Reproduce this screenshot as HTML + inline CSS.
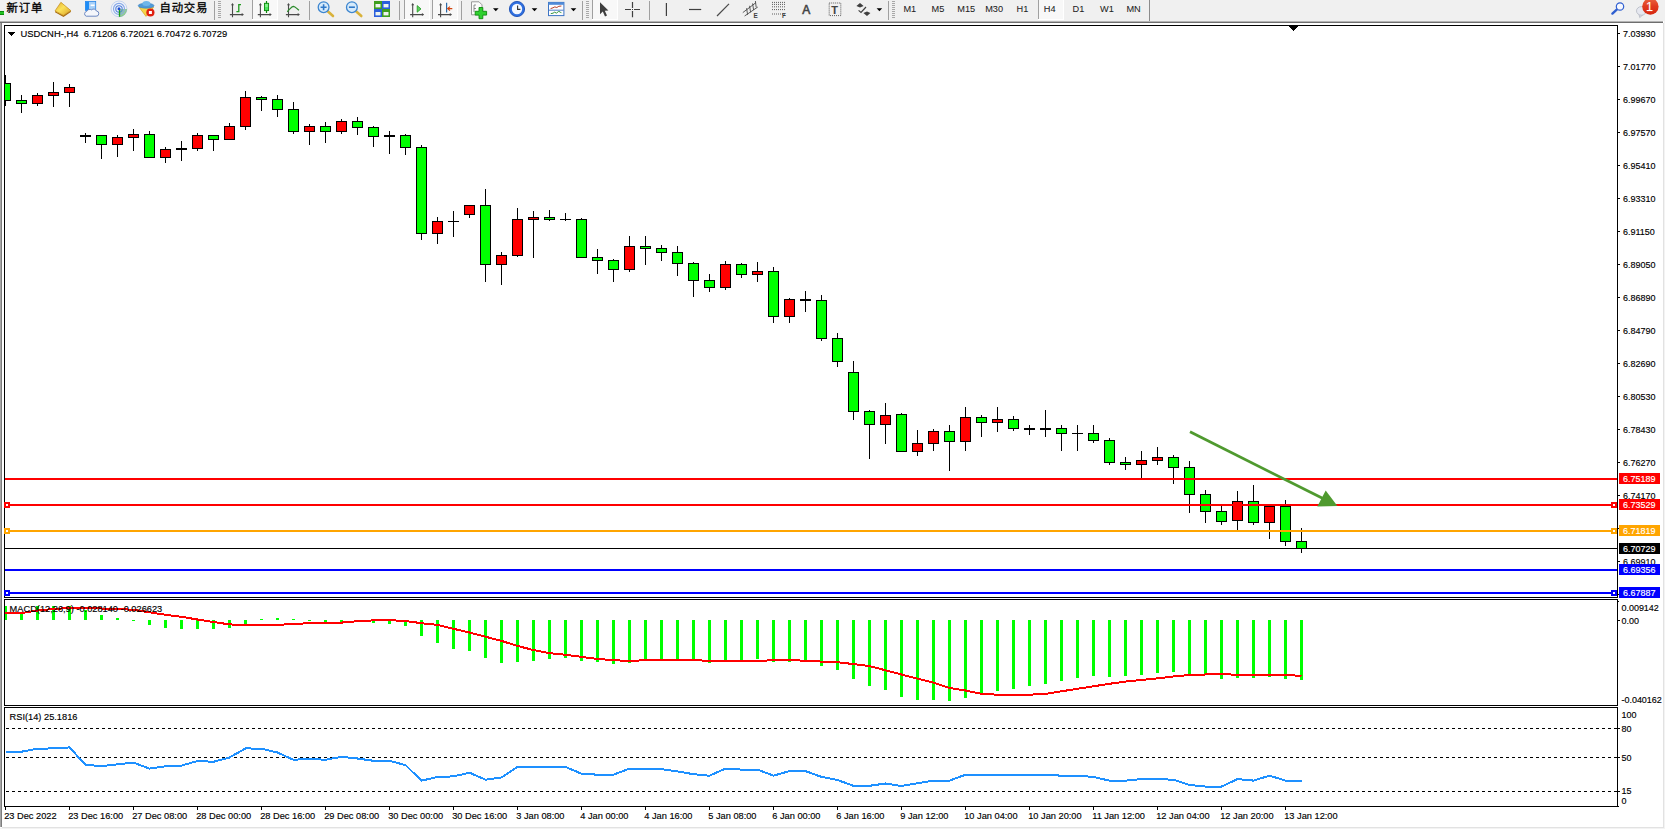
<!DOCTYPE html>
<html lang="zh"><head><meta charset="utf-8"><title>USDCNH-,H4</title>
<style>html,body{margin:0;padding:0;background:#fff;overflow:hidden}svg{display:block}text{font-family:"Liberation Sans", "Noto Sans CJK SC", sans-serif;font-size:9.8px;fill:#000;stroke:#000;stroke-width:0.15px}.cr{shape-rendering:crispEdges}.w{fill:#fff;stroke:#fff}.tb{fill:#222;stroke:#222;stroke-width:0.05px;font-size:9.2px}.cj{font-size:11.4px;letter-spacing:0.75px;fill:#000;stroke-width:0.3px}</style></head><body>
<svg width="1665" height="829" viewBox="0 0 1665 829">
<rect width="1665" height="829" fill="#fff"/>
<g class="cr">
<rect x="0" y="0" width="1665" height="21" fill="#f0f0f0"/>
<rect x="1664" y="21" width="1" height="808" fill="#f3f3f3"/>
<rect x="0" y="828" width="1665" height="1" fill="#f3f3f3"/>
<rect x="0" y="21" width="1663" height="1" fill="#b4b4b4"/>
<rect x="0" y="22" width="1663" height="1" fill="#6e6e6e"/>
<rect x="0" y="23" width="1" height="804" fill="#a6a6a6"/>
<rect x="1" y="23" width="1" height="804" fill="#7e7e7e"/>
<rect x="1663" y="23" width="1" height="805" fill="#e2e2e2"/>
<rect x="2" y="827" width="1662" height="1" fill="#e2e2e2"/>
</g>
<g id="toolbar">
<rect class="cr" x="0" y="11" width="4" height="4" fill="#22c322"/><rect class="cr" x="0" y="11" width="4" height="1" fill="#0d8a0d"/><rect class="cr" x="0" y="14" width="4" height="1" fill="#0d8a0d"/>
<text class="cj" x="6.6" y="12.3">新订单</text>
<defs><linearGradient id="gold" x1="0" y1="0" x2="1" y2="1"><stop offset="0" stop-color="#e2a92a"/><stop offset="0.45" stop-color="#fbe25a"/><stop offset="1" stop-color="#d9a024"/></linearGradient></defs>
<path d="M55 10.900L63.400 15.300L70.800 10.600L70.800 12L63.500 16.900L55 12.300Z" fill="#a86c12"/>
<path d="M60.900 2.300L70.800 10.600L63.400 15.400L55 10.900Z" fill="url(#gold)" stroke="#c08a1c" stroke-width="0.700"/>
<rect x="85.400" y="1.500" width="10.300" height="8.800" fill="#a6d0f8" stroke="#2a86e8" stroke-width="0.800"/><rect x="85.400" y="1.500" width="3.600" height="8.800" fill="#1e8cf5"/><rect x="90.600" y="4.500" width="4" height="1.600" fill="#fff"/>
<path d="M86.200 16.200h9.800a2.600 2.600 0 0 0 0.400-5.200a2.900 2.900 0 0 0-4.800-1.100a3.300 3.300 0 0 0-4.900 1.500a2.500 2.500 0 0 0-0.500 4.800z" fill="#f4f6fb" stroke="#5f7dbb" stroke-width="0.900"/>
<circle cx="119" cy="8.900" r="7.900" fill="#eef2f9" stroke="#c3d3ee" stroke-width="1"/>
<path d="M119 9L119 17A8 8 0 0 0 127 9Z" fill="#3aa83a" opacity="0.5"/>
<circle cx="119" cy="8.900" r="5.500" fill="none" stroke="#86a8e6" stroke-width="1.100"/>
<circle cx="119" cy="8.900" r="3.200" fill="none" stroke="#5583dd" stroke-width="1.100"/>
<path d="M119.500 9.500V16.700" stroke="#18a018" stroke-width="1.300"/>
<circle cx="119" cy="8.800" r="1.500" fill="#2050d0"/>
<path d="M139.200 7.300L153.600 7.300L146 16.400Z" fill="#f6d548" stroke="#d2a422" stroke-width="0.700"/>
<ellipse cx="146.100" cy="5.700" rx="7.900" ry="2.500" fill="#4f9ad8" stroke="#3a7fc0" stroke-width="0.600"/><ellipse cx="146.400" cy="3.400" rx="4" ry="2.500" fill="#6fb6ea"/>
<circle cx="150.400" cy="12.500" r="4.100" fill="#e02010"/><rect x="148.900" y="11" width="3" height="3" fill="#fff"/>
<text class="cj" x="159.500" y="12.300">自动交易</text>
<rect class="cr" x="214" y="1" width="1" height="19" fill="#a0a0a0"/>
<path class="cr" d="M218 1.5 h3 M218 3.5 h3 M218 5.5 h3 M218 7.5 h3 M218 9.5 h3 M218 11.5 h3 M218 13.5 h3 M218 15.5 h3 M218 17.5 h3" stroke="#a8a8a8" stroke-width="1" fill="none"/>
<path d="M232.5 17.2V4 M229.9 14.6H243.1" stroke="#4a4a4a" stroke-width="1.1" fill="none"/>
<path d="M232.5 3l1.500 2.200h-3z M243.9 14.600l-2.200 1.500v-3z" fill="#4a4a4a"/>
<path d="M241 4.6h-2.2v7h-2.4" stroke="#1f9a1f" stroke-width="1.3" fill="none"/>
<rect class="cr" x="253" y="0" width="24" height="19" fill="#f8f8f8"/>
<rect class="cr" x="252" y="0" width="1" height="19" fill="#a0a0a0"/>
<rect class="cr" x="277" y="0" width="1" height="20" fill="#fff"/>
<rect class="cr" x="252" y="19" width="25" height="1" fill="#fff"/>
<path d="M260.4 17.2V4 M257.8 14.6H271" stroke="#4a4a4a" stroke-width="1.1" fill="none"/>
<path d="M260.4 3l1.500 2.200h-3z M271.8 14.600l-2.200 1.500v-3z" fill="#4a4a4a"/>
<path d="M266.5 1v12" stroke="#0d8a0d" stroke-width="1.2"/><rect x="264.500" y="3.300" width="4.100" height="7.300" fill="#4be45f" stroke="#0d8a0d" stroke-width="0.900"/><rect x="265.200" y="4" width="2.700" height="3" fill="#86f28f"/>
<path d="M288.5 17.2V4 M285.9 14.6H299.1" stroke="#4a4a4a" stroke-width="1.1" fill="none"/>
<path d="M288.5 3l1.500 2.200h-3z M299.9 14.600l-2.200 1.500v-3z" fill="#4a4a4a"/>
<path d="M287.3 11.8C290 9 291.6 6.2 293.5 6.3C295.5 6.6 296.8 8.8 299 10.2" stroke="#2a8a2a" stroke-width="1.2" fill="none"/>
<rect class="cr" x="309" y="1" width="1" height="19" fill="#a0a0a0"/>
<path d="M328 11.6L333 16" stroke="#d9b23a" stroke-width="2.6" stroke-linecap="round"/>
<circle cx="323.6" cy="7.2" r="5.4" fill="#d6eafa" stroke="#3d86d0" stroke-width="1.3"/>
<path d="M320.6 7.2h6 M323.6 4.2v6" stroke="#2f78c8" stroke-width="1.6" fill="none"/>
<path d="M356.3 11.6L361.3 16" stroke="#d9b23a" stroke-width="2.6" stroke-linecap="round"/>
<circle cx="351.9" cy="7.2" r="5.4" fill="#d6eafa" stroke="#3d86d0" stroke-width="1.3"/>
<path d="M348.9 7.2h6" stroke="#2f78c8" stroke-width="1.6" fill="none"/>
<rect x="374" y="1" width="8" height="8" fill="#3f9e1f"/>
<rect x="375.5" y="4" width="5" height="3.4" fill="#eef4ee"/>
<rect x="382" y="1" width="8" height="8" fill="#2b5fdc"/>
<rect x="383.5" y="4" width="5" height="3.4" fill="#eef4ee"/>
<rect x="374" y="9" width="8" height="8" fill="#2b5fdc"/>
<rect x="375.5" y="12" width="5" height="3.4" fill="#eef4ee"/>
<rect x="382" y="9" width="8" height="8" fill="#3f9e1f"/>
<rect x="383.5" y="12" width="5" height="3.4" fill="#eef4ee"/>
<rect class="cr" x="399" y="1" width="1" height="19" fill="#a0a0a0"/>
<rect class="cr" x="405" y="0" width="24" height="19" fill="#f8f8f8"/>
<rect class="cr" x="404" y="0" width="1" height="19" fill="#a0a0a0"/>
<rect class="cr" x="429" y="0" width="1" height="20" fill="#fff"/>
<rect class="cr" x="404" y="19" width="25" height="1" fill="#fff"/>
<path d="M412.7 17.2V4 M410.1 14.6H423.3" stroke="#4a4a4a" stroke-width="1.1" fill="none"/>
<path d="M412.7 3l1.500 2.200h-3z M424.1 14.600l-2.200 1.500v-3z" fill="#4a4a4a"/>
<path d="M417.2 5.6V12.2L421 8.9Z" fill="#5fd25f" stroke="#1f9a1f" stroke-width="0.8"/>
<rect class="cr" x="433" y="0" width="24" height="19" fill="#f8f8f8"/>
<rect class="cr" x="432" y="0" width="1" height="19" fill="#a0a0a0"/>
<rect class="cr" x="457" y="0" width="1" height="20" fill="#fff"/>
<rect class="cr" x="432" y="19" width="25" height="1" fill="#fff"/>
<path d="M440.6 17.2V4 M438 14.6H451.2" stroke="#4a4a4a" stroke-width="1.1" fill="none"/>
<path d="M440.6 3l1.500 2.200h-3z M452 14.600l-2.200 1.500v-3z" fill="#4a4a4a"/>
<path d="M446.6 2.8V12.6" stroke="#2b6aa8" stroke-width="1.2"/><path d="M452.3 8.6H448 M450 6.6L447.6 8.6L450 10.6" stroke="#d2440f" stroke-width="1.1" fill="none"/>
<rect class="cr" x="461" y="1" width="1" height="19" fill="#a0a0a0"/>
<path d="M471.5 1.8h7.5l3 3v10h-10.5z" fill="#fbfbfb" stroke="#8e8e8e" stroke-width="0.9"/><path d="M474 5v7 M474 5h2 M474 8.5h2" stroke="#777" stroke-width="0.8" fill="none"/>
<path d="M479 7.5h3.8v3.8h3.8v3.8h-3.8v3.6h-3.8v-3.6h-3.8v-3.8h3.800z" fill="#2fd02f" stroke="#0d8a0d" stroke-width="0.9"/>
<path d="M493 8.2h5.6l-2.8 3z" fill="#000"/>
<circle cx="517" cy="9" r="7.6" fill="#2f6fe0" stroke="#1c4fb4" stroke-width="0.9"/><circle cx="517" cy="9" r="5.2" fill="#f4f8ff"/>
<path d="M517.6 5.4V9.4H520.4" stroke="#333" stroke-width="1.1" fill="none"/>
<path d="M531.7 8.2h5.6l-2.8 3z" fill="#000"/>
<rect x="548.5" y="2.4" width="15.4" height="13.2" fill="#fdfdff" stroke="#3c74c4" stroke-width="1"/><rect x="548.5" y="2.4" width="15.4" height="2.4" fill="#4f8ad8"/><path d="M549 10.2h14.6" stroke="#3c74c4" stroke-width="0.9"/>
<path d="M550.6 8.6l2.4-0.8l1.8-0.9l2 0.6l2-1.2l2.6-0.3" stroke="#b02a10" stroke-width="0.9" fill="none"/><path d="M550.8 13.6l2.2-0.4l1.6-1l1.8 0.9l2.2-1.6l1.6 0.4l1.2 1.2" stroke="#1f8a2a" stroke-width="0.9" fill="none"/>
<path d="M570.7 8.2h5.6l-2.8 3z" fill="#000"/>
<rect class="cr" x="582" y="1" width="1" height="19" fill="#a0a0a0"/>
<path class="cr" d="M586 1.5 h3 M586 3.5 h3 M586 5.5 h3 M586 7.5 h3 M586 9.5 h3 M586 11.5 h3 M586 13.5 h3 M586 15.5 h3 M586 17.5 h3" stroke="#a8a8a8" stroke-width="1" fill="none"/>
<rect class="cr" x="593" y="0" width="24" height="19" fill="#f8f8f8"/>
<rect class="cr" x="592" y="0" width="1" height="19" fill="#a0a0a0"/>
<rect class="cr" x="617" y="0" width="1" height="20" fill="#fff"/>
<rect class="cr" x="592" y="19" width="25" height="1" fill="#fff"/>
<path d="M600 2.2V14.2L602.8 11.6L605 16.4L607 15.5L604.8 10.8L608.4 10.6Z" fill="#3f3f3f"/>
<path d="M625 9.5H631 M634 9.5H640 M632.5 2V8 M632.5 11V17.2" stroke="#3f3f3f" stroke-width="1.2" fill="none"/><rect x="632" y="9" width="1" height="1" fill="#3f3f3f"/>
<rect class="cr" x="649" y="1" width="1" height="19" fill="#a0a0a0"/>
<path d="M666.4 3V16" stroke="#3f3f3f" stroke-width="1.2"/>
<path d="M689 9.5H701.2" stroke="#3f3f3f" stroke-width="1.2"/>
<path d="M717 16L729 3.8" stroke="#4a4a4a" stroke-width="1.2"/>
<path d="M742.8 12.6L756 2.6 M744.6 16L757.8 7 M746.6 8.2l1 6.600 M749.6 5.8l1 6.6 M752.6 3.4l1 6.6 M755.4 1l0.800 6.400" stroke="#4a4a4a" stroke-width="0.9" fill="none"/>
<text x="753.6" y="17.8" style="font-size:6.4px;font-weight:bold;fill:#3f3f3f;stroke:none">E</text>
<path d="M772 2.4H785.6" stroke="#4a4a4a" stroke-width="0.9" stroke-dasharray="1 1"/>
<path d="M772 4.4H785.6" stroke="#4a4a4a" stroke-width="0.9" stroke-dasharray="1 1"/>
<path d="M772 6.8H785.6" stroke="#4a4a4a" stroke-width="0.9" stroke-dasharray="1 1"/>
<path d="M772 9.6H785.6" stroke="#4a4a4a" stroke-width="0.9" stroke-dasharray="1 1"/>
<path d="M772 14H785.6" stroke="#4a4a4a" stroke-width="0.9" stroke-dasharray="1 1"/>
<text x="782" y="17.8" style="font-size:6.4px;font-weight:bold;fill:#3f3f3f;stroke:none">F</text>
<text x="802.3" y="14" style="font-size:12px;fill:#444;stroke:#444;stroke-width:0.55px">A</text>
<rect x="829.2" y="3" width="11.6" height="12.6" fill="none" stroke="#4a4a4a" stroke-width="0.9" stroke-dasharray="1 1"/>
<text x="831.3" y="13.6" style="font-size:11px;font-weight:bold;fill:#444;stroke:#444;stroke-width:0.1px">T</text>
<path d="M856.4 6L860 3L863.6 6L860 7.6Z M863.4 13L867 11.4L870.4 13L867 16Z" fill="#3f3f3f"/><path d="M858.6 10.4L861 12.4L866 7" stroke="#3f3f3f" stroke-width="1.2" fill="none"/>
<path d="M876.6 8.2h5.6l-2.8 3z" fill="#000"/>
<rect class="cr" x="888" y="1" width="1" height="19" fill="#a0a0a0"/>
<path class="cr" d="M892 1.5 h3 M892 3.5 h3 M892 5.5 h3 M892 7.5 h3 M892 9.5 h3 M892 11.5 h3 M892 13.5 h3 M892 15.5 h3 M892 17.5 h3" stroke="#a8a8a8" stroke-width="1" fill="none"/>
<text class="tb" x="903.4" y="12.1">M1</text>
<text class="tb" x="931.6" y="12.1">M5</text>
<text class="tb" x="957.3" y="12.1">M15</text>
<text class="tb" x="985.2" y="12.1">M30</text>
<text class="tb" x="1016.5" y="12.1">H1</text>
<rect class="cr" x="1039" y="0" width="24" height="19" fill="#f8f8f8"/>
<rect class="cr" x="1038" y="0" width="1" height="19" fill="#a0a0a0"/>
<rect class="cr" x="1063" y="0" width="1" height="20" fill="#fff"/>
<rect class="cr" x="1038" y="19" width="25" height="1" fill="#fff"/>
<text class="tb" x="1043.8" y="12.1">H4</text>
<text class="tb" x="1072.6" y="12.1">D1</text>
<text class="tb" x="1100" y="12.1">W1</text>
<text class="tb" x="1126.4" y="12.1">MN</text>
<rect class="cr" x="1149" y="0" width="1" height="21" fill="#8c8c8c"/>
<path d="M1617 9.4L1612.4 13.6" stroke="#2f5fd0" stroke-width="2.4" stroke-linecap="round"/><circle cx="1620" cy="6.5" r="3.7" fill="#f6f8ff" stroke="#2f5fd0" stroke-width="1.2"/>
<defs><linearGradient id="bg1" x1="0" y1="0" x2="0" y2="1"><stop offset="0" stop-color="#ea6540"/><stop offset="0.5" stop-color="#e03a1e"/><stop offset="1" stop-color="#d6270f"/></linearGradient></defs>
<path d="M1639 14.300L1639.700 17.600L1642.600 15.100Z" fill="#dfe1ea" stroke="#aeb1bc" stroke-width="0.700"/><ellipse cx="1641.400" cy="10.900" rx="4.900" ry="4.300" fill="#e6e8f0" stroke="#b4b7c2" stroke-width="0.800"/>
<circle cx="1650.4" cy="6.500" r="8.2" fill="url(#bg1)"/>
<text x="1646" y="11" style="font-size:12.4px;fill:#fff;stroke:#fff;stroke-width:0.1px">1</text>
<rect x="1647" y="10" width="5.2" height="1.100" fill="#fff"/>
</g>
<g class="cr" id="chart">
<rect x="4" y="25" width="1614" height="1" fill="#000"/>
<rect x="4" y="25" width="1" height="782" fill="#000"/>
<rect x="1617" y="25" width="1" height="782" fill="#000"/>
<rect x="4" y="597" width="1614" height="1" fill="#000"/>
<rect x="4" y="599" width="1614" height="1" fill="#000"/>
<rect x="4" y="705" width="1614" height="1" fill="#000"/>
<rect x="4" y="707" width="1614" height="1" fill="#000"/>
<rect x="4" y="806" width="1614" height="1" fill="#000"/>
<rect x="1618" y="601" width="1" height="1" fill="#000"/>
<rect x="1618" y="806" width="1" height="1" fill="#000"/>
<rect x="1618" y="33" width="2" height="1" fill="#000"/>
<rect x="1618" y="66" width="2" height="1" fill="#000"/>
<rect x="1618" y="99" width="2" height="1" fill="#000"/>
<rect x="1618" y="132" width="2" height="1" fill="#000"/>
<rect x="1618" y="165" width="2" height="1" fill="#000"/>
<rect x="1618" y="198" width="2" height="1" fill="#000"/>
<rect x="1618" y="231" width="2" height="1" fill="#000"/>
<rect x="1618" y="264" width="2" height="1" fill="#000"/>
<rect x="1618" y="297" width="2" height="1" fill="#000"/>
<rect x="1618" y="330" width="2" height="1" fill="#000"/>
<rect x="1618" y="363" width="2" height="1" fill="#000"/>
<rect x="1618" y="396" width="2" height="1" fill="#000"/>
<rect x="1618" y="429" width="2" height="1" fill="#000"/>
<rect x="1618" y="462" width="2" height="1" fill="#000"/>
<rect x="1618" y="495" width="2" height="1" fill="#000"/>
<rect x="1618" y="528" width="2" height="1" fill="#000"/>
<rect x="1618" y="561" width="2" height="1" fill="#000"/>
<rect x="1618" y="594" width="2" height="1" fill="#000"/>
<path d="M1289 26H1298.4L1293.700 31.400Z" fill="#000"/>
<path d="M8 32H15.4L11.7 36.2Z" fill="#000"/>
<rect x="5" y="75" width="1" height="31" fill="#000"/>
<rect x="0" y="83" width="11" height="18" fill="#000"/>
<rect x="1" y="84" width="9" height="16" fill="#00ff00"/>
<rect x="21" y="95" width="1" height="18" fill="#000"/>
<rect x="16" y="100" width="11" height="4" fill="#000"/>
<rect x="17" y="101" width="9" height="2" fill="#00ff00"/>
<rect x="37" y="93" width="1" height="13" fill="#000"/>
<rect x="32" y="95" width="11" height="9" fill="#000"/>
<rect x="33" y="96" width="9" height="7" fill="#ff0000"/>
<rect x="53" y="82" width="1" height="25" fill="#000"/>
<rect x="48" y="92" width="11" height="4" fill="#000"/>
<rect x="49" y="93" width="9" height="2" fill="#ff0000"/>
<rect x="69" y="84" width="1" height="23" fill="#000"/>
<rect x="64" y="87" width="11" height="6" fill="#000"/>
<rect x="65" y="88" width="9" height="4" fill="#ff0000"/>
<rect x="85" y="133" width="1" height="10" fill="#000"/>
<rect x="80" y="135" width="11" height="2" fill="#000"/>
<rect x="101" y="135" width="1" height="24" fill="#000"/>
<rect x="96" y="135" width="11" height="10" fill="#000"/>
<rect x="97" y="136" width="9" height="8" fill="#00ff00"/>
<rect x="117" y="135" width="1" height="22" fill="#000"/>
<rect x="112" y="137" width="11" height="8" fill="#000"/>
<rect x="113" y="138" width="9" height="6" fill="#ff0000"/>
<rect x="133" y="129" width="1" height="22" fill="#000"/>
<rect x="128" y="134" width="11" height="4" fill="#000"/>
<rect x="129" y="135" width="9" height="2" fill="#ff0000"/>
<rect x="149" y="131" width="1" height="27" fill="#000"/>
<rect x="144" y="134" width="11" height="24" fill="#000"/>
<rect x="145" y="135" width="9" height="22" fill="#00ff00"/>
<rect x="165" y="147" width="1" height="16" fill="#000"/>
<rect x="160" y="149" width="11" height="9" fill="#000"/>
<rect x="161" y="150" width="9" height="7" fill="#ff0000"/>
<rect x="181" y="141" width="1" height="20" fill="#000"/>
<rect x="176" y="148" width="11" height="2" fill="#000"/>
<rect x="197" y="133" width="1" height="18" fill="#000"/>
<rect x="192" y="135" width="11" height="14" fill="#000"/>
<rect x="193" y="136" width="9" height="12" fill="#ff0000"/>
<rect x="213" y="135" width="1" height="16" fill="#000"/>
<rect x="208" y="135" width="11" height="5" fill="#000"/>
<rect x="209" y="136" width="9" height="3" fill="#00ff00"/>
<rect x="229" y="123" width="1" height="17" fill="#000"/>
<rect x="224" y="126" width="11" height="14" fill="#000"/>
<rect x="225" y="127" width="9" height="12" fill="#ff0000"/>
<rect x="245" y="91" width="1" height="39" fill="#000"/>
<rect x="240" y="97" width="11" height="30" fill="#000"/>
<rect x="241" y="98" width="9" height="28" fill="#ff0000"/>
<rect x="261" y="96" width="1" height="15" fill="#000"/>
<rect x="256" y="97" width="11" height="3" fill="#000"/>
<rect x="257" y="98" width="9" height="1" fill="#00ff00"/>
<rect x="277" y="95" width="1" height="22" fill="#000"/>
<rect x="272" y="99" width="11" height="11" fill="#000"/>
<rect x="273" y="100" width="9" height="9" fill="#00ff00"/>
<rect x="293" y="102" width="1" height="32" fill="#000"/>
<rect x="288" y="109" width="11" height="23" fill="#000"/>
<rect x="289" y="110" width="9" height="21" fill="#00ff00"/>
<rect x="309" y="124" width="1" height="21" fill="#000"/>
<rect x="304" y="126" width="11" height="6" fill="#000"/>
<rect x="305" y="127" width="9" height="4" fill="#ff0000"/>
<rect x="325" y="122" width="1" height="21" fill="#000"/>
<rect x="320" y="126" width="11" height="6" fill="#000"/>
<rect x="321" y="127" width="9" height="4" fill="#00ff00"/>
<rect x="341" y="119" width="1" height="15" fill="#000"/>
<rect x="336" y="121" width="11" height="11" fill="#000"/>
<rect x="337" y="122" width="9" height="9" fill="#ff0000"/>
<rect x="357" y="117" width="1" height="18" fill="#000"/>
<rect x="352" y="121" width="11" height="7" fill="#000"/>
<rect x="353" y="122" width="9" height="5" fill="#00ff00"/>
<rect x="373" y="126" width="1" height="21" fill="#000"/>
<rect x="368" y="127" width="11" height="10" fill="#000"/>
<rect x="369" y="128" width="9" height="8" fill="#00ff00"/>
<rect x="389" y="131" width="1" height="23" fill="#000"/>
<rect x="384" y="135" width="11" height="2" fill="#000"/>
<rect x="405" y="134" width="1" height="21" fill="#000"/>
<rect x="400" y="135" width="11" height="13" fill="#000"/>
<rect x="401" y="136" width="9" height="11" fill="#00ff00"/>
<rect x="421" y="145" width="1" height="95" fill="#000"/>
<rect x="416" y="147" width="11" height="87" fill="#000"/>
<rect x="417" y="148" width="9" height="85" fill="#00ff00"/>
<rect x="437" y="217" width="1" height="27" fill="#000"/>
<rect x="432" y="221" width="11" height="13" fill="#000"/>
<rect x="433" y="222" width="9" height="11" fill="#ff0000"/>
<rect x="453" y="211" width="1" height="26" fill="#000"/>
<rect x="448" y="221" width="11" height="1" fill="#000"/>
<rect x="469" y="205" width="1" height="13" fill="#000"/>
<rect x="464" y="205" width="11" height="10" fill="#000"/>
<rect x="465" y="206" width="9" height="8" fill="#ff0000"/>
<rect x="485" y="189" width="1" height="93" fill="#000"/>
<rect x="480" y="205" width="11" height="60" fill="#000"/>
<rect x="481" y="206" width="9" height="58" fill="#00ff00"/>
<rect x="501" y="252" width="1" height="33" fill="#000"/>
<rect x="496" y="255" width="11" height="10" fill="#000"/>
<rect x="497" y="256" width="9" height="8" fill="#ff0000"/>
<rect x="517" y="208" width="1" height="49" fill="#000"/>
<rect x="512" y="219" width="11" height="37" fill="#000"/>
<rect x="513" y="220" width="9" height="35" fill="#ff0000"/>
<rect x="533" y="211" width="1" height="47" fill="#000"/>
<rect x="528" y="217" width="11" height="3" fill="#000"/>
<rect x="529" y="218" width="9" height="1" fill="#ff0000"/>
<rect x="549" y="210" width="1" height="11" fill="#000"/>
<rect x="544" y="217" width="11" height="3" fill="#000"/>
<rect x="545" y="218" width="9" height="1" fill="#00ff00"/>
<rect x="565" y="213" width="1" height="8" fill="#000"/>
<rect x="560" y="219" width="11" height="1" fill="#000"/>
<rect x="581" y="218" width="1" height="40" fill="#000"/>
<rect x="576" y="219" width="11" height="39" fill="#000"/>
<rect x="577" y="220" width="9" height="37" fill="#00ff00"/>
<rect x="597" y="249" width="1" height="25" fill="#000"/>
<rect x="592" y="257" width="11" height="4" fill="#000"/>
<rect x="593" y="258" width="9" height="2" fill="#00ff00"/>
<rect x="613" y="259" width="1" height="23" fill="#000"/>
<rect x="608" y="260" width="11" height="10" fill="#000"/>
<rect x="609" y="261" width="9" height="8" fill="#00ff00"/>
<rect x="629" y="236" width="1" height="36" fill="#000"/>
<rect x="624" y="246" width="11" height="24" fill="#000"/>
<rect x="625" y="247" width="9" height="22" fill="#ff0000"/>
<rect x="645" y="236" width="1" height="29" fill="#000"/>
<rect x="640" y="246" width="11" height="3" fill="#000"/>
<rect x="641" y="247" width="9" height="1" fill="#00ff00"/>
<rect x="661" y="245" width="1" height="16" fill="#000"/>
<rect x="656" y="248" width="11" height="5" fill="#000"/>
<rect x="657" y="249" width="9" height="3" fill="#00ff00"/>
<rect x="677" y="246" width="1" height="30" fill="#000"/>
<rect x="672" y="252" width="11" height="12" fill="#000"/>
<rect x="673" y="253" width="9" height="10" fill="#00ff00"/>
<rect x="693" y="262" width="1" height="35" fill="#000"/>
<rect x="688" y="263" width="11" height="18" fill="#000"/>
<rect x="689" y="264" width="9" height="16" fill="#00ff00"/>
<rect x="709" y="274" width="1" height="18" fill="#000"/>
<rect x="704" y="280" width="11" height="8" fill="#000"/>
<rect x="705" y="281" width="9" height="6" fill="#00ff00"/>
<rect x="725" y="261" width="1" height="29" fill="#000"/>
<rect x="720" y="264" width="11" height="24" fill="#000"/>
<rect x="721" y="265" width="9" height="22" fill="#ff0000"/>
<rect x="741" y="263" width="1" height="15" fill="#000"/>
<rect x="736" y="264" width="11" height="11" fill="#000"/>
<rect x="737" y="265" width="9" height="9" fill="#00ff00"/>
<rect x="757" y="262" width="1" height="20" fill="#000"/>
<rect x="752" y="271" width="11" height="4" fill="#000"/>
<rect x="753" y="272" width="9" height="2" fill="#ff0000"/>
<rect x="773" y="267" width="1" height="56" fill="#000"/>
<rect x="768" y="271" width="11" height="46" fill="#000"/>
<rect x="769" y="272" width="9" height="44" fill="#00ff00"/>
<rect x="789" y="298" width="1" height="25" fill="#000"/>
<rect x="784" y="299" width="11" height="18" fill="#000"/>
<rect x="785" y="300" width="9" height="16" fill="#ff0000"/>
<rect x="805" y="291" width="1" height="21" fill="#000"/>
<rect x="800" y="299" width="11" height="2" fill="#000"/>
<rect x="821" y="295" width="1" height="46" fill="#000"/>
<rect x="816" y="300" width="11" height="39" fill="#000"/>
<rect x="817" y="301" width="9" height="37" fill="#00ff00"/>
<rect x="837" y="333" width="1" height="34" fill="#000"/>
<rect x="832" y="338" width="11" height="24" fill="#000"/>
<rect x="833" y="339" width="9" height="22" fill="#00ff00"/>
<rect x="853" y="361" width="1" height="59" fill="#000"/>
<rect x="848" y="372" width="11" height="40" fill="#000"/>
<rect x="849" y="373" width="9" height="38" fill="#00ff00"/>
<rect x="869" y="410" width="1" height="49" fill="#000"/>
<rect x="864" y="411" width="11" height="14" fill="#000"/>
<rect x="865" y="412" width="9" height="12" fill="#00ff00"/>
<rect x="885" y="403" width="1" height="41" fill="#000"/>
<rect x="880" y="415" width="11" height="10" fill="#000"/>
<rect x="881" y="416" width="9" height="8" fill="#ff0000"/>
<rect x="901" y="413" width="1" height="39" fill="#000"/>
<rect x="896" y="414" width="11" height="38" fill="#000"/>
<rect x="897" y="415" width="9" height="36" fill="#00ff00"/>
<rect x="917" y="430" width="1" height="26" fill="#000"/>
<rect x="912" y="443" width="11" height="9" fill="#000"/>
<rect x="913" y="444" width="9" height="7" fill="#ff0000"/>
<rect x="933" y="429" width="1" height="22" fill="#000"/>
<rect x="928" y="431" width="11" height="13" fill="#000"/>
<rect x="929" y="432" width="9" height="11" fill="#ff0000"/>
<rect x="949" y="425" width="1" height="46" fill="#000"/>
<rect x="944" y="431" width="11" height="11" fill="#000"/>
<rect x="945" y="432" width="9" height="9" fill="#00ff00"/>
<rect x="965" y="407" width="1" height="44" fill="#000"/>
<rect x="960" y="417" width="11" height="25" fill="#000"/>
<rect x="961" y="418" width="9" height="23" fill="#ff0000"/>
<rect x="981" y="415" width="1" height="22" fill="#000"/>
<rect x="976" y="417" width="11" height="6" fill="#000"/>
<rect x="977" y="418" width="9" height="4" fill="#00ff00"/>
<rect x="997" y="407" width="1" height="25" fill="#000"/>
<rect x="992" y="419" width="11" height="4" fill="#000"/>
<rect x="993" y="420" width="9" height="2" fill="#ff0000"/>
<rect x="1013" y="416" width="1" height="15" fill="#000"/>
<rect x="1008" y="419" width="11" height="10" fill="#000"/>
<rect x="1009" y="420" width="9" height="8" fill="#00ff00"/>
<rect x="1029" y="425" width="1" height="10" fill="#000"/>
<rect x="1024" y="428" width="11" height="2" fill="#000"/>
<rect x="1045" y="410" width="1" height="27" fill="#000"/>
<rect x="1040" y="428" width="11" height="2" fill="#000"/>
<rect x="1061" y="425" width="1" height="26" fill="#000"/>
<rect x="1056" y="428" width="11" height="6" fill="#000"/>
<rect x="1057" y="429" width="9" height="4" fill="#00ff00"/>
<rect x="1077" y="425" width="1" height="26" fill="#000"/>
<rect x="1072" y="433" width="11" height="1" fill="#000"/>
<rect x="1093" y="425" width="1" height="18" fill="#000"/>
<rect x="1088" y="433" width="11" height="8" fill="#000"/>
<rect x="1089" y="434" width="9" height="6" fill="#00ff00"/>
<rect x="1109" y="438" width="1" height="27" fill="#000"/>
<rect x="1104" y="440" width="11" height="23" fill="#000"/>
<rect x="1105" y="441" width="9" height="21" fill="#00ff00"/>
<rect x="1125" y="457" width="1" height="13" fill="#000"/>
<rect x="1120" y="462" width="11" height="3" fill="#000"/>
<rect x="1121" y="463" width="9" height="1" fill="#00ff00"/>
<rect x="1141" y="451" width="1" height="27" fill="#000"/>
<rect x="1136" y="460" width="11" height="5" fill="#000"/>
<rect x="1137" y="461" width="9" height="3" fill="#ff0000"/>
<rect x="1157" y="447" width="1" height="18" fill="#000"/>
<rect x="1152" y="457" width="11" height="4" fill="#000"/>
<rect x="1153" y="458" width="9" height="2" fill="#ff0000"/>
<rect x="1173" y="455" width="1" height="29" fill="#000"/>
<rect x="1168" y="457" width="11" height="11" fill="#000"/>
<rect x="1169" y="458" width="9" height="9" fill="#00ff00"/>
<rect x="1189" y="461" width="1" height="52" fill="#000"/>
<rect x="1184" y="467" width="11" height="28" fill="#000"/>
<rect x="1185" y="468" width="9" height="26" fill="#00ff00"/>
<rect x="1205" y="490" width="1" height="33" fill="#000"/>
<rect x="1200" y="494" width="11" height="18" fill="#000"/>
<rect x="1201" y="495" width="9" height="16" fill="#00ff00"/>
<rect x="1221" y="506" width="1" height="19" fill="#000"/>
<rect x="1216" y="511" width="11" height="11" fill="#000"/>
<rect x="1217" y="512" width="9" height="9" fill="#00ff00"/>
<rect x="1237" y="491" width="1" height="39" fill="#000"/>
<rect x="1232" y="501" width="11" height="20" fill="#000"/>
<rect x="1233" y="502" width="9" height="18" fill="#ff0000"/>
<rect x="1253" y="485" width="1" height="40" fill="#000"/>
<rect x="1248" y="501" width="11" height="22" fill="#000"/>
<rect x="1249" y="502" width="9" height="20" fill="#00ff00"/>
<rect x="1269" y="506" width="1" height="33" fill="#000"/>
<rect x="1264" y="506" width="11" height="17" fill="#000"/>
<rect x="1265" y="507" width="9" height="15" fill="#ff0000"/>
<rect x="1285" y="500" width="1" height="46" fill="#000"/>
<rect x="1280" y="506" width="11" height="36" fill="#000"/>
<rect x="1281" y="507" width="9" height="34" fill="#00ff00"/>
<rect x="1301" y="528" width="1" height="25" fill="#000"/>
<rect x="1296" y="541" width="11" height="8" fill="#000"/>
<rect x="1297" y="542" width="9" height="6" fill="#00ff00"/>
<rect x="0" y="23" width="1" height="804" fill="#a6a6a6"/>
<rect x="1" y="23" width="1" height="804" fill="#7e7e7e"/>
<rect x="2" y="23" width="2" height="804" fill="#fff"/>
<rect x="4" y="25" width="1" height="782" fill="#000"/>
<rect x="4" y="598" width="1" height="1" fill="#fff"/>
<rect x="1617" y="598" width="1" height="1" fill="#fff"/>
<rect x="4" y="706" width="1" height="1" fill="#fff"/>
<rect x="1617" y="706" width="1" height="1" fill="#fff"/>
<rect x="5" y="478" width="1612" height="2" fill="#ff0000"/>
<rect x="5" y="504" width="1612" height="2" fill="#ff0000"/>
<rect x="5" y="530" width="1612" height="2" fill="#ffa500"/>
<rect x="5" y="548" width="1612" height="1" fill="#000"/>
<rect x="5" y="569" width="1612" height="2" fill="#0000ff"/>
<rect x="5" y="592" width="1612" height="2" fill="#0000ff"/>
<rect x="4" y="502" width="6" height="6" fill="#ff0000"/>
<rect x="6" y="504" width="2" height="2" fill="#fff"/>
<rect x="1611" y="502" width="6" height="6" fill="#ff0000"/>
<rect x="1613" y="504" width="2" height="2" fill="#fff"/>
<rect x="4" y="528" width="6" height="6" fill="#ffa500"/>
<rect x="6" y="530" width="2" height="2" fill="#fff"/>
<rect x="1611" y="528" width="6" height="6" fill="#ffa500"/>
<rect x="1613" y="530" width="2" height="2" fill="#fff"/>
<rect x="4" y="590" width="6" height="6" fill="#0000ff"/>
<rect x="6" y="592" width="2" height="2" fill="#fff"/>
<rect x="1611" y="590" width="6" height="6" fill="#0000ff"/>
<rect x="1613" y="592" width="2" height="2" fill="#fff"/>
<rect x="5" y="606" width="2" height="14" fill="#00ff00"/>
<rect x="20" y="612" width="3" height="8" fill="#00ff00"/>
<rect x="36" y="606" width="3" height="14" fill="#00ff00"/>
<rect x="52" y="606" width="3" height="14" fill="#00ff00"/>
<rect x="68" y="606" width="3" height="14" fill="#00ff00"/>
<rect x="84" y="610" width="3" height="10" fill="#00ff00"/>
<rect x="100" y="615" width="3" height="5" fill="#00ff00"/>
<rect x="116" y="618" width="3" height="2" fill="#00ff00"/>
<rect x="132" y="620" width="3" height="1" fill="#00ff00"/>
<rect x="148" y="620" width="3" height="5" fill="#00ff00"/>
<rect x="164" y="620" width="3" height="8" fill="#00ff00"/>
<rect x="180" y="620" width="3" height="9" fill="#00ff00"/>
<rect x="196" y="620" width="3" height="9" fill="#00ff00"/>
<rect x="212" y="620" width="3" height="9" fill="#00ff00"/>
<rect x="228" y="620" width="3" height="8" fill="#00ff00"/>
<rect x="244" y="620" width="3" height="4" fill="#00ff00"/>
<rect x="260" y="619" width="3" height="1" fill="#00ff00"/>
<rect x="276" y="618" width="3" height="2" fill="#00ff00"/>
<rect x="292" y="619" width="3" height="1" fill="#00ff00"/>
<rect x="308" y="620" width="3" height="1" fill="#00ff00"/>
<rect x="324" y="620" width="3" height="2" fill="#00ff00"/>
<rect x="340" y="620" width="3" height="2" fill="#00ff00"/>
<rect x="356" y="620" width="3" height="1" fill="#00ff00"/>
<rect x="372" y="620" width="3" height="3" fill="#00ff00"/>
<rect x="388" y="620" width="3" height="4" fill="#00ff00"/>
<rect x="404" y="620" width="3" height="6" fill="#00ff00"/>
<rect x="420" y="620" width="3" height="16" fill="#00ff00"/>
<rect x="436" y="620" width="3" height="23" fill="#00ff00"/>
<rect x="452" y="620" width="3" height="29" fill="#00ff00"/>
<rect x="468" y="620" width="3" height="31" fill="#00ff00"/>
<rect x="484" y="620" width="3" height="38" fill="#00ff00"/>
<rect x="500" y="620" width="3" height="43" fill="#00ff00"/>
<rect x="516" y="620" width="3" height="42" fill="#00ff00"/>
<rect x="532" y="620" width="3" height="41" fill="#00ff00"/>
<rect x="548" y="620" width="3" height="39" fill="#00ff00"/>
<rect x="564" y="620" width="3" height="38" fill="#00ff00"/>
<rect x="580" y="620" width="3" height="41" fill="#00ff00"/>
<rect x="596" y="620" width="3" height="42" fill="#00ff00"/>
<rect x="612" y="620" width="3" height="44" fill="#00ff00"/>
<rect x="628" y="620" width="3" height="43" fill="#00ff00"/>
<rect x="644" y="620" width="3" height="41" fill="#00ff00"/>
<rect x="660" y="620" width="3" height="39" fill="#00ff00"/>
<rect x="676" y="620" width="3" height="39" fill="#00ff00"/>
<rect x="692" y="620" width="3" height="41" fill="#00ff00"/>
<rect x="708" y="620" width="3" height="43" fill="#00ff00"/>
<rect x="724" y="620" width="3" height="40" fill="#00ff00"/>
<rect x="740" y="620" width="3" height="40" fill="#00ff00"/>
<rect x="756" y="620" width="3" height="39" fill="#00ff00"/>
<rect x="772" y="620" width="3" height="42" fill="#00ff00"/>
<rect x="788" y="620" width="3" height="42" fill="#00ff00"/>
<rect x="804" y="620" width="3" height="42" fill="#00ff00"/>
<rect x="820" y="620" width="3" height="46" fill="#00ff00"/>
<rect x="836" y="620" width="3" height="50" fill="#00ff00"/>
<rect x="852" y="620" width="3" height="59" fill="#00ff00"/>
<rect x="868" y="620" width="3" height="66" fill="#00ff00"/>
<rect x="884" y="620" width="3" height="70" fill="#00ff00"/>
<rect x="900" y="620" width="3" height="77" fill="#00ff00"/>
<rect x="916" y="620" width="3" height="80" fill="#00ff00"/>
<rect x="932" y="620" width="3" height="80" fill="#00ff00"/>
<rect x="948" y="620" width="3" height="81" fill="#00ff00"/>
<rect x="964" y="620" width="3" height="78" fill="#00ff00"/>
<rect x="980" y="620" width="3" height="75" fill="#00ff00"/>
<rect x="996" y="620" width="3" height="71" fill="#00ff00"/>
<rect x="1012" y="620" width="3" height="69" fill="#00ff00"/>
<rect x="1028" y="620" width="3" height="66" fill="#00ff00"/>
<rect x="1044" y="620" width="3" height="64" fill="#00ff00"/>
<rect x="1060" y="620" width="3" height="61" fill="#00ff00"/>
<rect x="1076" y="620" width="3" height="58" fill="#00ff00"/>
<rect x="1092" y="620" width="3" height="56" fill="#00ff00"/>
<rect x="1108" y="620" width="3" height="57" fill="#00ff00"/>
<rect x="1124" y="620" width="3" height="56" fill="#00ff00"/>
<rect x="1140" y="620" width="3" height="55" fill="#00ff00"/>
<rect x="1156" y="620" width="3" height="53" fill="#00ff00"/>
<rect x="1172" y="620" width="3" height="52" fill="#00ff00"/>
<rect x="1188" y="620" width="3" height="54" fill="#00ff00"/>
<rect x="1204" y="620" width="3" height="55" fill="#00ff00"/>
<rect x="1220" y="620" width="3" height="59" fill="#00ff00"/>
<rect x="1236" y="620" width="3" height="58" fill="#00ff00"/>
<rect x="1252" y="620" width="3" height="58" fill="#00ff00"/>
<rect x="1268" y="620" width="3" height="57" fill="#00ff00"/>
<rect x="1284" y="620" width="3" height="59" fill="#00ff00"/>
<rect x="1300" y="620" width="3" height="60" fill="#00ff00"/>
<path d="M6 728.5 H1617" stroke="#000" stroke-width="1" stroke-dasharray="3 3" fill="none"/>
<path d="M6 757.5 H1617" stroke="#000" stroke-width="1" stroke-dasharray="3 3" fill="none"/>
<path d="M6 791.5 H1617" stroke="#000" stroke-width="1" stroke-dasharray="3 3" fill="none"/>
<rect x="5" y="807" width="1" height="3" fill="#000"/>
<rect x="69" y="807" width="1" height="3" fill="#000"/>
<rect x="133" y="807" width="1" height="3" fill="#000"/>
<rect x="197" y="807" width="1" height="3" fill="#000"/>
<rect x="261" y="807" width="1" height="3" fill="#000"/>
<rect x="325" y="807" width="1" height="3" fill="#000"/>
<rect x="389" y="807" width="1" height="3" fill="#000"/>
<rect x="453" y="807" width="1" height="3" fill="#000"/>
<rect x="517" y="807" width="1" height="3" fill="#000"/>
<rect x="581" y="807" width="1" height="3" fill="#000"/>
<rect x="645" y="807" width="1" height="3" fill="#000"/>
<rect x="709" y="807" width="1" height="3" fill="#000"/>
<rect x="773" y="807" width="1" height="3" fill="#000"/>
<rect x="837" y="807" width="1" height="3" fill="#000"/>
<rect x="901" y="807" width="1" height="3" fill="#000"/>
<rect x="965" y="807" width="1" height="3" fill="#000"/>
<rect x="1029" y="807" width="1" height="3" fill="#000"/>
<rect x="1093" y="807" width="1" height="3" fill="#000"/>
<rect x="1157" y="807" width="1" height="3" fill="#000"/>
<rect x="1221" y="807" width="1" height="3" fill="#000"/>
<rect x="1285" y="807" width="1" height="3" fill="#000"/>
<rect x="1618" y="620" width="2" height="1" fill="#000"/>
<rect x="1618" y="728" width="2" height="1" fill="#000"/>
<rect x="1618" y="757" width="2" height="1" fill="#000"/>
<rect x="1618" y="791" width="2" height="1" fill="#000"/>
</g>
<polyline class="cr" points="5.5,613.1 21.5,613 37.5,610.6 53.5,608.9 69.5,608.1 85.5,608.1 101.5,608.5 117.5,608.9 133.5,609.8 149.5,612.3 165.5,614.8 181.5,616.8 197.5,619.5 213.5,622 229.5,624.4 245.5,625 261.5,625 277.5,624.9 293.5,624 309.5,623.2 325.5,622.8 341.5,622.6 357.5,621.2 373.5,620.4 389.5,620.2 405.5,621 421.5,623.2 437.5,624.9 453.5,628.8 469.5,632.5 485.5,636.7 501.5,640.9 517.5,645.9 533.5,650.1 549.5,653.2 565.5,654.7 581.5,656.9 597.5,658.9 613.5,660.2 629.5,661 645.5,660.2 661.5,659.9 677.5,659.9 693.5,659.9 709.5,661 725.5,661 741.5,661 757.5,661 773.5,660.2 789.5,660.3 805.5,660.6 821.5,661.6 837.5,662.2 853.5,664.1 869.5,666.1 885.5,670.3 901.5,674.5 917.5,678.7 933.5,682.6 949.5,688 965.5,690.5 981.5,693.9 997.5,694.7 1013.5,695 1029.5,694.7 1045.5,693.9 1061.5,691.3 1077.5,688.8 1093.5,686.3 1109.5,683.8 1125.5,681.6 1141.5,679.9 1157.5,678.4 1173.5,676.5 1189.5,675 1205.5,674.5 1221.5,674 1237.5,674.9 1253.5,674.9 1269.5,674.9 1285.5,675 1301.5,675.9" fill="none" stroke="#ff0000" stroke-width="2"/>
<polyline class="cr" points="5.5,751.7 21.5,751.7 37.5,748.7 53.5,748.4 69.5,747.4 85.5,764.8 101.5,766.1 117.5,764.3 133.5,762.6 149.5,768.6 165.5,766.3 181.5,765.6 197.5,761 213.5,761.8 229.5,757.5 245.5,748.4 261.5,748.7 277.5,752.5 293.5,759.8 309.5,758.8 325.5,759.8 341.5,756.8 357.5,758.5 373.5,760.8 389.5,760.8 405.5,765.1 421.5,780.7 437.5,776.9 453.5,776.4 469.5,772.7 485.5,779.7 501.5,777.4 517.5,766.9 533.5,766.9 549.5,766.9 565.5,766.9 581.5,773.7 597.5,774.7 613.5,774.7 629.5,768.6 645.5,768.6 661.5,769.1 677.5,771.4 693.5,774.2 709.5,775.7 725.5,768.6 741.5,769.6 757.5,769.6 773.5,775.7 789.5,771.1 805.5,771.1 821.5,776.9 837.5,780 853.5,785.8 869.5,785.8 885.5,783.5 901.5,786 917.5,783.2 933.5,780.7 949.5,780.7 965.5,774.7 981.5,774.7 997.5,774.7 1013.5,774.7 1029.5,774.7 1045.5,774.7 1061.5,775.7 1077.5,775.7 1093.5,776.9 1109.5,780.7 1125.5,780.7 1141.5,779 1157.5,779 1173.5,779.8 1189.5,784.9 1205.5,786.6 1221.5,786.6 1237.5,779.1 1253.5,780.6 1269.5,775.7 1285.5,780.6 1301.5,780.6" fill="none" stroke="#1e90ff" stroke-width="2"/>
<path d="M1190 431.8L1323 498.6" stroke="#4f9a2f" stroke-width="2.8" fill="none"/>
<path d="M1325.7 490.6L1337.4 506L1317.3 506.6Z" fill="#4f9a2f"/>
<text transform="translate(20.5 36.7) scale(0.959 1)" xml:space="preserve">USDCNH-,H4  6.71206 6.72021 6.70472 6.70729</text>
<text transform="translate(9.6 612.1) scale(0.945 1)" xml:space="preserve">MACD(12,26,9) -0.028140 -0.026623</text>
<text transform="translate(9.6 720.2) scale(0.945 1)" xml:space="preserve">RSI(14) 25.1816</text>
<text transform="translate(1623 36.6) scale(0.918 1)" xml:space="preserve">7.03930</text>
<text transform="translate(1623 69.6) scale(0.918 1)" xml:space="preserve">7.01770</text>
<text transform="translate(1623 102.6) scale(0.918 1)" xml:space="preserve">6.99670</text>
<text transform="translate(1623 135.6) scale(0.918 1)" xml:space="preserve">6.97570</text>
<text transform="translate(1623 168.6) scale(0.918 1)" xml:space="preserve">6.95410</text>
<text transform="translate(1623 201.6) scale(0.918 1)" xml:space="preserve">6.93310</text>
<text transform="translate(1623 234.6) scale(0.918 1)" xml:space="preserve">6.91150</text>
<text transform="translate(1623 267.6) scale(0.918 1)" xml:space="preserve">6.89050</text>
<text transform="translate(1623 300.6) scale(0.918 1)" xml:space="preserve">6.86890</text>
<text transform="translate(1623 333.6) scale(0.918 1)" xml:space="preserve">6.84790</text>
<text transform="translate(1623 366.6) scale(0.918 1)" xml:space="preserve">6.82690</text>
<text transform="translate(1623 399.6) scale(0.918 1)" xml:space="preserve">6.80530</text>
<text transform="translate(1623 432.6) scale(0.918 1)" xml:space="preserve">6.78430</text>
<text transform="translate(1623 465.6) scale(0.918 1)" xml:space="preserve">6.76270</text>
<text transform="translate(1623 498.6) scale(0.918 1)" xml:space="preserve">6.74170</text>
<text transform="translate(1623 531.6) scale(0.918 1)" xml:space="preserve">6.72070</text>
<text transform="translate(1623 564.6) scale(0.918 1)" xml:space="preserve">6.69910</text>
<text transform="translate(1623 597.6) scale(0.918 1)" xml:space="preserve">6.67810</text>
<rect class="cr" x="1619" y="473" width="41" height="11" fill="#ff0000"/>
<text transform="translate(1623 482.1) scale(0.918 1)" class="w" xml:space="preserve">6.75189</text>
<rect class="cr" x="1619" y="499" width="41" height="11" fill="#ff0000"/>
<text transform="translate(1623 508.1) scale(0.918 1)" class="w" xml:space="preserve">6.73529</text>
<rect class="cr" x="1619" y="525" width="41" height="11" fill="#ffa500"/>
<text transform="translate(1623 534.1) scale(0.918 1)" class="w" xml:space="preserve">6.71819</text>
<rect class="cr" x="1619" y="543" width="41" height="11" fill="#000000"/>
<text transform="translate(1623 552.1) scale(0.918 1)" class="w" xml:space="preserve">6.70729</text>
<rect class="cr" x="1619" y="564" width="41" height="11" fill="#0000ff"/>
<text transform="translate(1623 573.1) scale(0.918 1)" class="w" xml:space="preserve">6.69356</text>
<rect class="cr" x="1619" y="587" width="41" height="11" fill="#0000ff"/>
<text transform="translate(1623 596.1) scale(0.918 1)" class="w" xml:space="preserve">6.67887</text>
<text transform="translate(1621.4 610.5) scale(0.918 1)" xml:space="preserve">0.009142</text>
<text transform="translate(1621.4 624.2) scale(0.918 1)" xml:space="preserve">0.00</text>
<text transform="translate(1621.4 702.5) scale(0.918 1)" xml:space="preserve">-0.040162</text>
<text transform="translate(1621.5 718) scale(0.918 1)" xml:space="preserve">100</text>
<text transform="translate(1621.5 731.5) scale(0.918 1)" xml:space="preserve">80</text>
<text transform="translate(1621.5 760.5) scale(0.918 1)" xml:space="preserve">50</text>
<text transform="translate(1621.5 794.3) scale(0.918 1)" xml:space="preserve">15</text>
<text transform="translate(1621.5 803.6) scale(0.918 1)" xml:space="preserve">0</text>
<text transform="translate(4.2 819.1) scale(0.945 1)" xml:space="preserve">23 Dec 2022</text>
<text transform="translate(68.2 819.1) scale(0.945 1)" xml:space="preserve">23 Dec 16:00</text>
<text transform="translate(132.2 819.1) scale(0.945 1)" xml:space="preserve">27 Dec 08:00</text>
<text transform="translate(196.2 819.1) scale(0.945 1)" xml:space="preserve">28 Dec 00:00</text>
<text transform="translate(260.2 819.1) scale(0.945 1)" xml:space="preserve">28 Dec 16:00</text>
<text transform="translate(324.2 819.1) scale(0.945 1)" xml:space="preserve">29 Dec 08:00</text>
<text transform="translate(388.2 819.1) scale(0.945 1)" xml:space="preserve">30 Dec 00:00</text>
<text transform="translate(452.2 819.1) scale(0.945 1)" xml:space="preserve">30 Dec 16:00</text>
<text transform="translate(516.2 819.1) scale(0.945 1)" xml:space="preserve">3 Jan 08:00</text>
<text transform="translate(580.2 819.1) scale(0.945 1)" xml:space="preserve">4 Jan 00:00</text>
<text transform="translate(644.2 819.1) scale(0.945 1)" xml:space="preserve">4 Jan 16:00</text>
<text transform="translate(708.2 819.1) scale(0.945 1)" xml:space="preserve">5 Jan 08:00</text>
<text transform="translate(772.2 819.1) scale(0.945 1)" xml:space="preserve">6 Jan 00:00</text>
<text transform="translate(836.2 819.1) scale(0.945 1)" xml:space="preserve">6 Jan 16:00</text>
<text transform="translate(900.2 819.1) scale(0.945 1)" xml:space="preserve">9 Jan 12:00</text>
<text transform="translate(964.2 819.1) scale(0.945 1)" xml:space="preserve">10 Jan 04:00</text>
<text transform="translate(1028.2 819.1) scale(0.945 1)" xml:space="preserve">10 Jan 20:00</text>
<text transform="translate(1092.2 819.1) scale(0.945 1)" xml:space="preserve">11 Jan 12:00</text>
<text transform="translate(1156.2 819.1) scale(0.945 1)" xml:space="preserve">12 Jan 04:00</text>
<text transform="translate(1220.2 819.1) scale(0.945 1)" xml:space="preserve">12 Jan 20:00</text>
<text transform="translate(1284.2 819.1) scale(0.945 1)" xml:space="preserve">13 Jan 12:00</text>
</svg></body></html>
